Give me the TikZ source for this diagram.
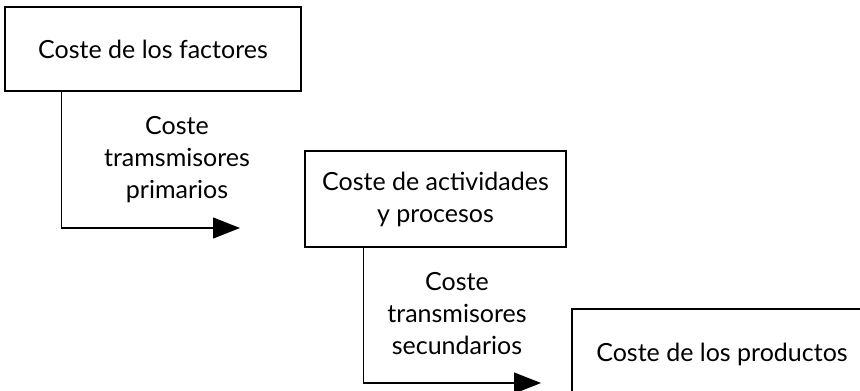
\documentclass[tikz,border=0pt]{standalone}
\usepackage{fontspec}
\setmainfont{Lato}
\usetikzlibrary{arrows.meta}
\tikzset{
  costbox/.style={draw, line width=1.3pt, align=center, inner sep=0pt},
  costlabel/.style={align=center, inner sep=0pt},
  flow/.style={line width=1.2pt, -{Triangle[length=27pt,width=21pt]}},
}
\begin{document}
\begin{tikzpicture}[x=1pt, y=-1pt, font=\fontsize{25}{32}\selectfont]
      \clip (0,0) rectangle (860,391);         % page
      %
      \node[costbox, minimum width=296pt, minimum height=84pt]
        (factores) at (153,49) {Coste de los factores};
      \node[costbox, minimum width=261pt, minimum height=96pt]
        (actividades) at (435.5,199) {Coste de actividades\\y procesos};
      \node[costbox, minimum width=300pt, minimum height=90pt]
        (productos) at (722,354) {Coste de los productos};
      %
      \coordinate (fin1) at (240,228);          % arrow ends
      \coordinate (fin2) at (541,383);
      %
      \draw[flow] ([xshift=57pt]factores.south west) |- (fin1);
      \draw[flow] ([xshift=59pt]actividades.south west) |- (fin2);
      %
      \node[costlabel] (primarios) at (177,160) {Coste\\tramsmisores\\primarios};
      \node[costlabel] (secundarios) at (457,314) {Coste\\transmisores\\secundarios};
      %
\end{tikzpicture}
\end{document}
